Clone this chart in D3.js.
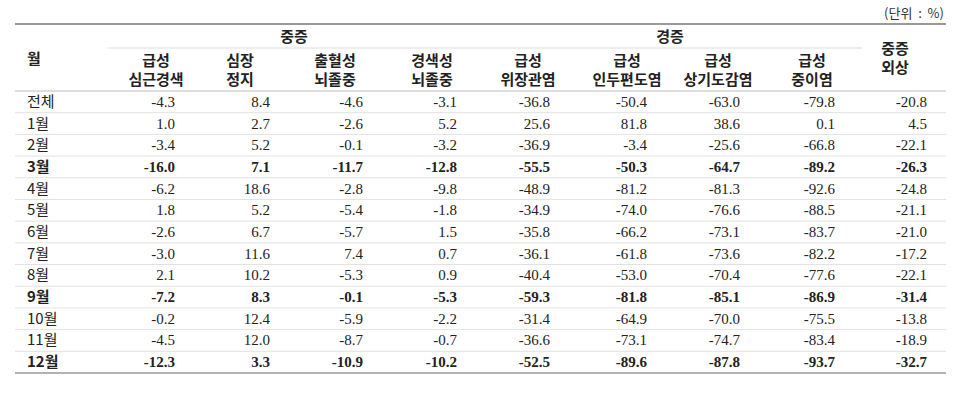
<!DOCTYPE html>
<html><head><meta charset="utf-8">
<script src="https://cdn.jsdelivr.net/npm/d3@7/dist/d3.min.js"></script>
<style>body{margin:0;background:#fff}</style></head>
<body><svg id="c" width="960" height="403"></svg>
<script>
const months=["전체","1월","2월","3월","4월","5월","6월","7월","8월","9월","10월","11월","12월"];
const boldRows=["3월","9월","12월"];
const groups=[{name:"중증",from:0,to:3},{name:"경증",from:4,to:7}];
const columns=[["급성","심근경색"],["심장","정지"],["출혈성","뇌졸중"],["경색성","뇌졸중"],["급성","위장관염"],["급성","인두편도염"],["급성","상기도감염"],["급성","중이염"],["중증","외상"]];
const c0=[-4.3,1.0,-3.4,-16.0,-6.2,1.8,-2.6,-3.0,2.1,-7.2,-0.2,-4.5,-12.3];
const c1=[8.4,2.7,5.2,7.1,18.6,5.2,6.7,11.6,10.2,8.3,12.4,12.0,3.3];
const c2=[-4.6,-2.6,-0.1,-11.7,-2.8,-5.4,-5.7,7.4,-5.3,-0.1,-5.9,-8.7,-10.9];
const c3=[-3.1,5.2,-3.2,-12.8,-9.8,-1.8,1.5,0.7,0.9,-5.3,-2.2,-0.7,-10.2];
const c4=[-36.8,25.6,-36.9,-55.5,-48.9,-34.9,-35.8,-36.1,-40.4,-59.3,-31.4,-36.6,-52.5];
const c5=[-50.4,81.8,-3.4,-50.3,-81.2,-74.0,-66.2,-61.8,-53.0,-81.8,-64.9,-73.1,-89.6];
const c6=[-63.0,38.6,-25.6,-64.7,-81.3,-76.6,-73.1,-73.6,-70.4,-85.1,-70.0,-74.7,-87.8];
const c7=[-79.8,0.1,-66.8,-89.2,-92.6,-88.5,-83.7,-82.2,-77.6,-86.9,-75.5,-83.4,-93.7];
const c8=[-20.8,4.5,-22.1,-26.3,-24.8,-21.1,-21.0,-17.2,-22.1,-31.4,-13.8,-18.9,-32.7];
const values=[c0,c1,c2,c3,c4,c5,c6,c7,c8];

const svg=d3.select("#c");
const KR="'Noto Sans CJK KR','Noto Sans',sans-serif", SER="'Liberation Serif','DejaVu Serif',serif";
const numRight=[175,270,363,457,550,647,740,835,927];
const headC=[156,240,335,432,528,627,718,812,895];
const colX=d3.scaleOrdinal().domain(d3.range(9)).range(numRight);
const y=d3.scaleBand().domain(months).range([91,373]);
const L=15,R=946;
svg.append("text").attr("x",R-2).attr("y",18).attr("text-anchor","end").attr("font-family",KR).attr("font-size",13).attr("fill","#333").attr("xml:space","preserve").text("(단위  :  %)");
svg.append("line").attr("x1",L).attr("x2",R).attr("y1",24).attr("y2",24).attr("stroke","#999").attr("stroke-width",2);
svg.append("line").attr("x1",L).attr("x2",R).attr("y1",91).attr("y2",91).attr("stroke","#bbb").attr("stroke-width",1.2);
svg.append("line").attr("x1",L).attr("x2",R).attr("y1",373).attr("y2",373).attr("stroke","#999").attr("stroke-width",1.5);
svg.append("line").attr("x1",108).attr("x2",862).attr("y1",48).attr("y2",48).attr("stroke","#ddd");
groups.forEach(g=>{
  const cx=(headC[g.from]+headC[g.to])/2;
  svg.append("text").attr("x",cx).attr("y",42).attr("text-anchor","middle").attr("font-family",KR).attr("font-weight","bold").attr("font-size",15).attr("fill","#222").text(g.name);
});
svg.append("text").attr("x",27).attr("y",64).attr("font-family",KR).attr("font-weight","bold").attr("font-size",15).attr("fill","#222").text("월");
columns.forEach((c,i)=>{
  const last=i===8;
  const y0=last?54:66;
  c.forEach((t,k)=>svg.append("text").attr("x",headC[i]).attr("y",y0+k*19).attr("text-anchor","middle").attr("font-family",KR).attr("font-weight","bold").attr("font-size",15).attr("fill","#222").text(t));
});
months.forEach((m,r)=>{
  const yy=y(m)+y.bandwidth()/2+5;
  const b=boldRows.includes(m);
  if(r>0) svg.append("line").attr("x1",L).attr("x2",R).attr("y1",y(m)).attr("y2",y(m)).attr("stroke","#e2e2e2");
  svg.append("text").attr("x",27).attr("y",yy).attr("font-family",KR).attr("font-weight",b?"bold":"normal").attr("font-size",15).attr("fill","#222").text(m);
  values.forEach((v,i)=>{
    svg.append("text").attr("x",colX(i)).attr("y",yy).attr("text-anchor","end").attr("font-family",SER).attr("font-weight",b?"bold":"normal").attr("font-size",15).attr("fill","#222").text(v[r].toFixed(1));
  });
});
</script></body></html>
